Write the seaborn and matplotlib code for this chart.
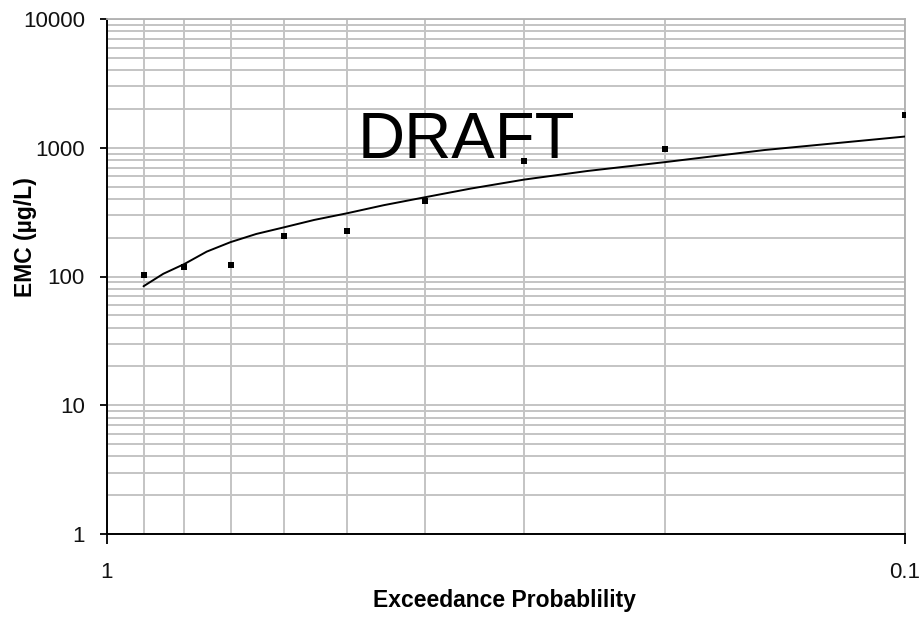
import numpy as np
import pandas as pd
import matplotlib
matplotlib.use("Agg")
import matplotlib.pyplot as plt
import matplotlib.ticker as mticker
import seaborn as sns

# observed EMC values at plotting-position exceedance probabilities
obs_prob = [0.9, 0.8, 0.7, 0.6, 0.5, 0.4, 0.3, 0.2, 0.1]
obs_emc = [102, 118, 122, 208, 225, 383, 795, 980, 1800]

# fitted curve
fit_prob = [0.9, 0.85, 0.8, 0.75, 0.7, 0.65, 0.6, 0.55, 0.5, 0.45, 0.4,
            0.35, 0.3, 0.25, 0.2, 0.15, 0.1]
fit_emc = [84, 105, 125, 156, 185, 214, 241, 275, 310, 358, 412,
           482, 566, 660, 773, 960, 1222]

y_ticks = [1, 10, 100, 1000, 10000]
x_ticks = [1, 0.1]
x_tick_labels = ["1", "0.1"]

sns.set_style("white")
plt.rcParams['font.family'] = ['Liberation Sans', 'DejaVu Sans']
plt.rcParams['text.color'] = 'black'
plt.rcParams['axes.labelcolor'] = 'black'
plt.rcParams['xtick.color'] = 'black'
plt.rcParams['ytick.color'] = 'black'

fig = plt.figure(figsize=(9.23, 6.21), dpi=100)
ax = fig.add_axes([107 / 923, 87 / 621, 798 / 923, 515 / 621])

df_obs = pd.DataFrame({"p": obs_prob, "emc": obs_emc})
df_fit = pd.DataFrame({"p": fit_prob, "emc": fit_emc})

sns.lineplot(data=df_fit, x="p", y="emc", ax=ax, color="black", linewidth=1.4, zorder=3)
sns.scatterplot(data=df_obs, x="p", y="emc", ax=ax, color="black", marker="s",
                s=22, edgecolor="black", linewidth=0, zorder=4)

ax.set_xscale("log")
ax.set_yscale("log")
ax.set_xlim(1, 0.1)
ax.set_ylim(1, 10000)

ax.set_xticks(x_ticks)
ax.set_xticklabels(x_tick_labels)
ax.xaxis.set_minor_locator(mticker.FixedLocator([0.2, 0.3, 0.4, 0.5, 0.6, 0.7, 0.8, 0.9]))
ax.xaxis.set_minor_formatter(mticker.NullFormatter())
ax.set_yticks(y_ticks)
ax.set_yticklabels([str(v) for v in y_ticks])
ax.yaxis.set_minor_locator(mticker.LogLocator(base=10, subs=np.arange(2, 10)))
ax.yaxis.set_minor_formatter(mticker.NullFormatter())

ax.grid(which="both", color="#c4c4c4", linewidth=1.4)
ax.set_axisbelow(True)
ax.tick_params(which="major", left=True, bottom=True, width=1.3, color="black",
               labelsize=16, labelcolor="#111111")
ax.tick_params(axis="x", which="major", length=7, pad=13)
ax.tick_params(axis="y", which="major", length=5, pad=11)
ax.tick_params(which="minor", length=0)

for side in ["left", "bottom"]:
    ax.spines[side].set_color("black")
    ax.spines[side].set_linewidth(1.4)
for side in ["top", "right"]:
    ax.spines[side].set_color("#b0b0b0")
    ax.spines[side].set_linewidth(1.3)

ax.set_xlabel("Exceedance Probablility", fontsize=16.5, fontweight="bold")
ax.set_ylabel("EMC (\u00b5g/L)", fontsize=16.5, fontweight="bold")
ax.xaxis.set_label_coords(0.4975, (534 - 589) / 515)
ax.yaxis.set_label_coords((37 - 107) / 798, (534 - 237) / 515)

ax.text(466, 621 - 141, "DRAFT", transform=None, fontsize=47, ha="center", va="center",
        color="black")

fig.savefig("out.png", dpi=100)
